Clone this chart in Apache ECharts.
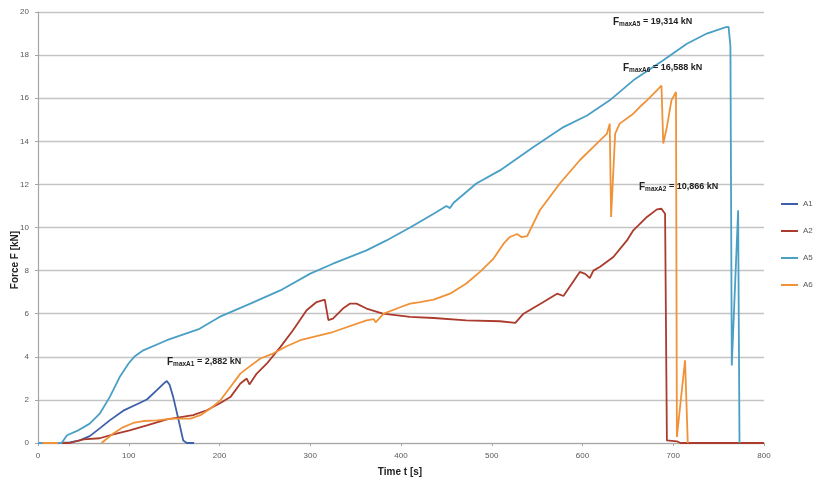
<!DOCTYPE html>
<html>
<head>
<meta charset="utf-8">
<script src="https://cdn.jsdelivr.net/npm/echarts@6/dist/echarts.min.js"></script>
<style>
  html, body { margin: 0; padding: 0; background: #fff; }
  #chart { width: 819px; height: 484px; }
</style>
</head>
<body>
<div id="chart"></div>
<script>
// time [s], force [kN]
var seriesNames = ['A1', 'A2', 'A5', 'A6'];
var colors = ['#3d5fa9', '#ab3b2c', '#4a9fc5', '#f09238'];

var a1 = [[0,0],[25,0],[35,0.03],[46,0.12],[57,0.32],[68,0.68],[79,1.05],[94,1.5],[109,1.8],[120,2.02],[131,2.45],[139,2.78],[142,2.88],[145,2.7],[149,2.13],[155,1.05],[160,0.12],[164,0],[172,0]];

var a2 = [[0,0],[35,0],[50,0.17],[68,0.22],[83,0.4],[101,0.59],[120,0.82],[142,1.1],[171,1.29],[186,1.52],[200,1.83],[212,2.13],[223,2.76],[230,2.99],[233,2.72],[241,3.22],[252,3.68],[267,4.45],[281,5.23],[296,6.16],[307,6.54],[316,6.65],[320,5.7],[325,5.77],[336,6.24],[344,6.47],[351,6.47],[362,6.24],[380,6.0],[410,5.85],[436,5.8],[472,5.69],[509,5.65],[526,5.57],[535,6.0],[557,6.54],[572,6.93],[579,6.82],[597,7.94],[603,7.85],[608,7.65],[612,8.0],[619,8.17],[634,8.63],[649,9.4],[656,9.87],[671,10.49],[682,10.84],[687,10.87],[691,10.64],[693,0.12],[704,0.08],[708,0],[800,0]];

var a5 = [[0,0],[26,0],[32,0.36],[43,0.56],[57,0.9],[68,1.36],[79,2.13],[90,3.06],[100,3.7],[106,4.0],[116,4.3],[142,4.77],[178,5.3],[200,5.85],[234,6.47],[267,7.08],[300,7.86],[325,8.32],[362,8.94],[384,9.4],[410,10.0],[436,10.64],[450,11.0],[454,10.9],[458,11.15],[483,12.04],[509,12.65],[546,13.74],[579,14.66],[605,15.2],[630,15.9],[656,16.83],[689,17.76],[715,18.53],[737,19.0],[758,19.3],[761,19.31],[763,18.4],[764.5,3.6],[771.5,10.8],[773,0]];

var a6 = [[5,0],[22,0],[23,null],[70,0],[83,0.44],[94,0.74],[105,0.93],[116,1.02],[131,1.05],[149,1.13],[168,1.13],[179,1.29],[190,1.6],[201,1.98],[212,2.6],[223,3.22],[230,3.45],[245,3.92],[259,4.15],[274,4.49],[289,4.77],[325,5.15],[362,5.69],[370,5.75],[372,5.6],[381,6.0],[399,6.3],[410,6.47],[421,6.54],[436,6.65],[454,6.93],[472,7.4],[487,7.94],[502,8.56],[513,9.25],[520,9.56],[528,9.7],[533,9.55],[539,9.6],[553,10.8],[575,12.04],[597,13.12],[612,13.74],[627,14.36],[630,14.82],[631.5,10.49],[636,14.36],[641,14.82],[656,15.28],[663,15.59],[671,15.9],[682,16.36],[687,16.59],[689,13.9],[693,14.66],[698,15.9],[703,16.29],[704,0.28],[713,3.84],[716,0]];

// max force labels: [sub, value text, left px, center y px]
var maxLabels = [
  ['maxA5', ' = 19,314 kN', 613, 22],
  ['maxA6', ' = 16,588 kN', 623, 68],
  ['maxA2', ' = 10,866 kN', 639, 187],
  ['maxA1', ' = 2,882 kN', 167, 362]
];

var allData = [a1, a2, a5, a6];
var font = "'Liberation Sans', Arial, sans-serif";

var chart = echarts.init(document.getElementById('chart'));

var series = [];
for (var i = 0; i < allData.length; i++) {
  series.push({
    name: seriesNames[i],
    type: 'line',
    data: allData[i],
    showSymbol: false,
    symbol: 'none',
    connectNulls: false,
    lineStyle: { width: 1.8, color: colors[i] },
    itemStyle: { color: colors[i] }
  });
}

var graphics = [];
maxLabels.forEach(function (m) {
  graphics.push({
    type: 'text',
    z: 100,
    x: m[2],
    y: m[3],
    style: {
      text: '{f|F}{s|' + m[0] + '}{v|' + m[1] + '}',
      verticalAlign: 'middle',
      fill: '#222',
      rich: {
        f: { fontFamily: font, fontSize: 10, fontWeight: 'bold', color: '#222' },
        s: { fontFamily: font, fontSize: 6.5, fontWeight: 'bold', color: '#222', padding: [4, 0, 0, 0] },
        v: { fontFamily: font, fontSize: 9, fontWeight: 'bold', color: '#222' }
      }
    }
  });
});
graphics.push({
  type: 'text',
  x: 15, y: 260,
  rotation: Math.PI / 2,
  style: { text: 'Force F [kN]', font: 'bold 10px ' + font, fill: '#222', align: 'center', verticalAlign: 'middle' }
});
graphics.push({
  type: 'text',
  x: 400, y: 472,
  style: { text: 'Time t [s]', font: 'bold 10px ' + font, fill: '#222', align: 'center', verticalAlign: 'middle' }
});

chart.setOption({
  animation: false,
  backgroundColor: '#fff',
  color: colors,
  grid: { left: 38, right: 55, top: 12, bottom: 41 },
  legend: {
    orient: 'vertical',
    left: 776,
    top: 194,
    icon: 'rect',
    itemWidth: 17,
    itemHeight: 2,
    itemGap: 17,
    textStyle: { fontFamily: font, fontSize: 8, color: '#595959', lineHeight: 10 },
    data: seriesNames
  },
  xAxis: {
    type: 'value',
    min: 0, max: 800, interval: 100,
    axisLine: { lineStyle: { color: '#a6a6a6', width: 1.2 } },
    axisTick: { show: true, length: 3, lineStyle: { color: '#a6a6a6' } },
    axisLabel: { fontFamily: font, fontSize: 8, color: '#595959', margin: 9 },
    splitLine: { show: false }
  },
  yAxis: {
    type: 'value',
    min: 0, max: 20, interval: 2,
    axisLine: { show: true, lineStyle: { color: '#a6a6a6', width: 1.2 } },
    axisTick: { show: true, length: 3, lineStyle: { color: '#a6a6a6' } },
    axisLabel: { fontFamily: font, fontSize: 8, color: '#595959', margin: 9 },
    splitLine: { lineStyle: { color: '#c4c4c4', width: 1.3 } }
  },
  graphic: graphics,
  series: series
});
</script>
</body>
</html>
